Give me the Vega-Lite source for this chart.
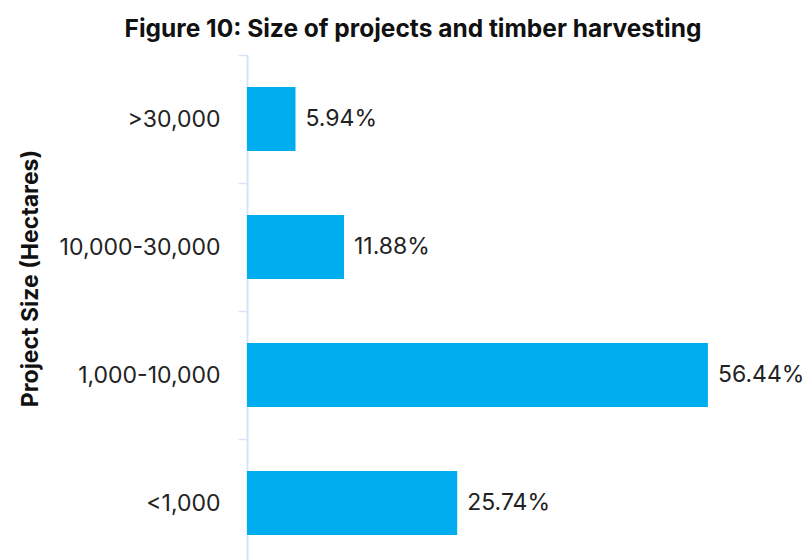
{
  "$schema": "https://vega.github.io/schema/vega-lite/v6.json",
  "autosize": "none",
  "width": 490,
  "height": 512,
  "padding": {"left": 247, "top": 55, "right": 69, "bottom": 0},
  "background": "white",
  "config": {"view": {"stroke": null}, "font": "Inter"},
  "title": {
    "text": "Figure 10: Size of projects and timber harvesting",
    "fontSize": 24.5,
    "fontWeight": "bold",
    "color": "#111111",
    "font": "Inter",
    "anchor": "middle",
    "dx": -79,
    "offset": 12
  },
  "data": {
    "values": [
      {"size": ">30,000", "pct": 5.94, "label": "5.94%"},
      {"size": "10,000-30,000", "pct": 11.88, "label": "11.88%"},
      {"size": "1,000-10,000", "pct": 56.44, "label": "56.44%"},
      {"size": "<1,000", "pct": 25.74, "label": "25.74%"}
    ]
  },
  "encoding": {
    "y": {
      "field": "size",
      "type": "nominal",
      "sort": null,
      "scale": {"paddingInner": 0.5, "paddingOuter": 0.25},
      "axis": {
        "title": "Project Size (Hectares)",
        "titleFontSize": 23,
        "titleFontWeight": "bold",
        "titleColor": "#111111",
        "titleAngle": -90,
        "titleX": -217,
        "titleY": 223,
        "titleAlign": "center",
        "titleBaseline": "middle",
        "labelFontSize": 23,
        "labelColor": "#222222",
        "labelPadding": 18,
        "labelOffset": 64,
        "tickSize": 9,
        "tickColor": "#D6E4F5",
        "domainColor": "#D6E4F5",
        "domainWidth": 2,
        "tickWidth": 1.5,
        "tickOffset": -64
      }
    },
    "x": {
      "field": "pct",
      "type": "quantitative",
      "scale": {"domain": [0, 60]},
      "axis": null
    }
  },
  "layer": [
    {"mark": {"type": "bar", "color": "#00AEEF"}},
    {
      "mark": {"type": "text", "align": "left", "dx": 10, "fontSize": 23, "color": "#222222"},
      "encoding": {"text": {"field": "label"}}
    }
  ]
}
